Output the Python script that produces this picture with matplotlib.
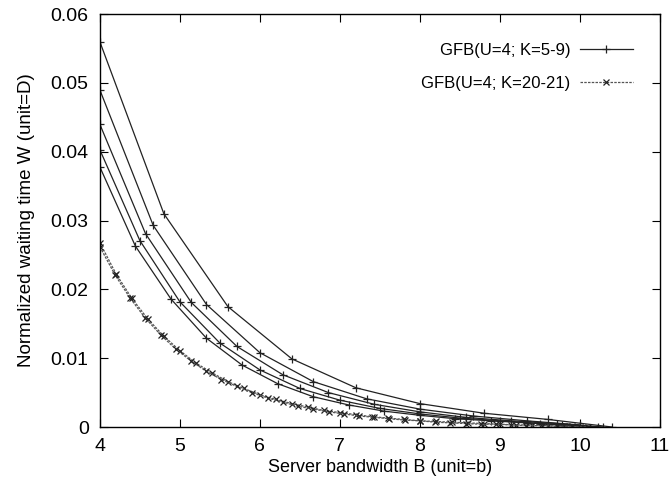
import matplotlib
matplotlib.use("Agg")
import matplotlib.pyplot as plt

plt.rcParams['font.family'] = ['Liberation Sans', 'DejaVu Sans']

# GFB(U=4; K=5..9), one marker every 4/K
x_k5 = [4.0, 4.8, 5.6, 6.4, 7.2, 8.0, 8.8, 9.6, 10.4]
y_k5 = [0.056, 0.031, 0.0175, 0.0099, 0.0057, 0.0034, 0.0020, 0.0011, 0.0]

x_k6 = [4.0, 4.667, 5.333, 6.0, 6.667, 7.333, 8.0, 8.667, 9.333, 10.0]
y_k6 = [0.049, 0.0293, 0.0178, 0.0108, 0.0066, 0.0041, 0.0026, 0.0016, 0.0009, 0.0003]

x_k7 = [4.0, 4.571, 5.143, 5.714, 6.286, 6.857, 7.429, 8.0, 8.571, 9.143, 9.714, 10.286]
y_k7 = [0.044, 0.0281, 0.0181, 0.0117, 0.0076, 0.0050, 0.0033, 0.0022, 0.0014, 0.0009, 0.0005, 0.0]

x_k8 = [4.0, 4.5, 5.0, 5.5, 6.0, 6.5, 7.0, 7.5, 8.0, 8.5, 9.0, 9.5, 10.0]
y_k8 = [0.0403, 0.0271, 0.0182, 0.0122, 0.0083, 0.0056, 0.0039, 0.0027, 0.0019, 0.0013, 0.0009, 0.0005, 0.0002]

x_k9 = [4.0, 4.444, 4.889, 5.333, 5.778, 6.222, 6.667, 7.111, 7.556, 8.0, 8.444, 8.889, 9.333, 9.778, 10.222]
y_k9 = [0.0378, 0.0263, 0.0186, 0.0129, 0.0090, 0.0063, 0.0044, 0.0032, 0.0023, 0.0017, 0.0012, 0.0009, 0.0006, 0.0003, 0.0]

# GFB(U=4; K=20-21)
x_k20 = [4.0, 4.2, 4.4, 4.6, 4.8, 5.0, 5.2, 5.4, 5.6, 5.8, 6.0, 6.2, 6.4, 6.6, 6.8, 7.0,
         7.2, 7.4, 7.6, 7.8, 8.0, 8.2, 8.4, 8.6, 8.8, 9.0, 9.2, 9.4, 9.6, 9.8, 10.0]
y_k20 = [0.0268, 0.0223, 0.0187, 0.0157, 0.0132, 0.0111, 0.0093, 0.0079, 0.0066, 0.0056,
         0.0047, 0.0040, 0.0034, 0.0029, 0.0024, 0.0021, 0.0018, 0.0015, 0.0013, 0.0011,
         0.0009, 0.0008, 0.0007, 0.0006, 0.0005, 0.0004, 0.0003, 0.0003, 0.0002, 0.0001, 0.0]

x_k21 = [4.0, 4.19, 4.38, 4.57, 4.76, 4.95, 5.14, 5.33, 5.52, 5.71, 5.90, 6.10, 6.29, 6.48,
         6.67, 6.86, 7.05, 7.24, 7.43, 7.62, 7.81, 8.0, 8.19, 8.38, 8.57, 8.76, 8.95, 9.14,
         9.33, 9.52, 9.71, 9.90, 10.10]
y_k21 = [0.0262, 0.0221, 0.0187, 0.0158, 0.0134, 0.0113, 0.0096, 0.0081, 0.0069, 0.0059,
         0.0050, 0.0042, 0.0036, 0.0030, 0.0026, 0.0022, 0.0019, 0.0016, 0.0014, 0.0012,
         0.0010, 0.0009, 0.0007, 0.0006, 0.0005, 0.0004, 0.0004, 0.0003, 0.0002, 0.0002,
         0.0001, 0.0001, 0.0]

label_plus = "GFB(U=4; K=5-9)"
label_x = "GFB(U=4; K=20-21)"

fig = plt.figure(figsize=(6.7, 4.88), dpi=100)
ax = fig.add_axes([0.149, 0.125, 0.836, 0.846])

plus_curves = [(x_k5, y_k5), (x_k6, y_k6), (x_k7, y_k7), (x_k8, y_k8), (x_k9, y_k9)]
for i, (xs, ys) in enumerate(plus_curves):
    ax.plot(xs, ys, color='#222222', lw=0.9, marker='+', ms=6, mew=0.9,
            label=label_plus if i == 0 else None)

for i, (xs, ys) in enumerate([(x_k20, y_k20), (x_k21, y_k21)]):
    ax.plot(xs, ys, color='#555555', lw=0.9, ls=(0, (2, 1)), marker='x', ms=4.5, mew=0.9,
            markeredgecolor='#222222', label=label_x if i == 0 else None)

ax.set_xlim(4, 11)
ax.set_ylim(0, 0.06)
ax.set_xticks([4, 5, 6, 7, 8, 9, 10, 11])
ax.set_yticks([0, 0.01, 0.02, 0.03, 0.04, 0.05, 0.06])
ax.set_yticklabels(['0', '0.01', '0.02', '0.03', '0.04', '0.05', '0.06'])
ax.tick_params(direction='in', top=True, right=True, length=6, labelsize=14, pad=8)
for s in ax.spines.values():
    s.set_linewidth(1.0)

ax.set_xlabel("Server bandwidth B (unit=b)", fontsize=13, labelpad=3)
ax.set_ylabel("Normalized waiting time W (unit=D)", fontsize=13.5, labelpad=11)

ax.legend(loc='upper right', bbox_to_anchor=(0.952, 0.93), frameon=False, markerfirst=False,
          fontsize=12, handlelength=3.2, handletextpad=0.55, borderpad=0,
          borderaxespad=0, labelspacing=1.05)

fig.savefig("out.png", dpi=100)
